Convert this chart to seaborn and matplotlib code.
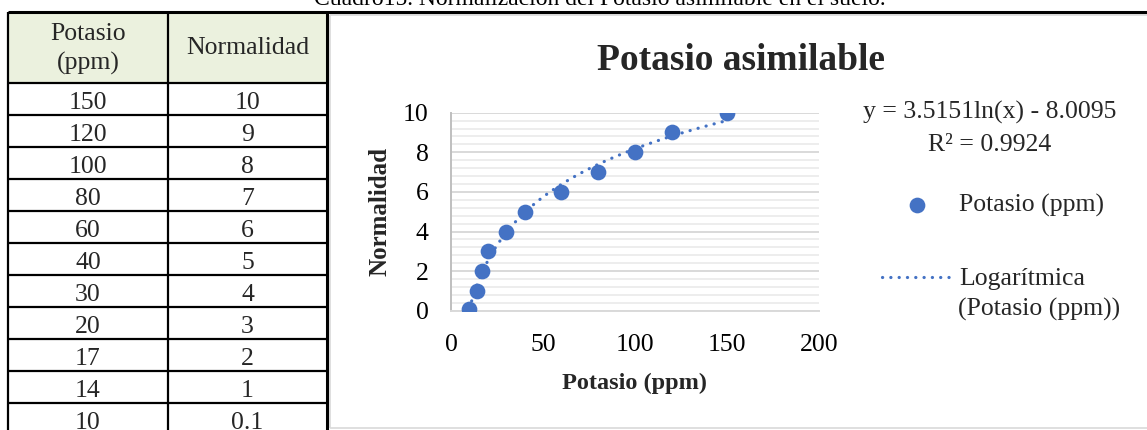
import numpy as np
import pandas as pd
import matplotlib
matplotlib.use("Agg")
import matplotlib.pyplot as plt
from matplotlib.lines import Line2D
from matplotlib.patches import Rectangle
from matplotlib.ticker import MultipleLocator
import seaborn as sns

# ---------------- data ----------------
potasio = [150, 120, 100, 80, 60, 40, 30, 20, 17, 14, 10]
normalidad = [10, 9, 8, 7, 6, 5, 4, 3, 2, 1, 0.1]
col_headers = ["Potasio\n(ppm)", "Normalidad"]
caption = "Cuadro15. Normalización del Potasio asimilable en el suelo."
title = "Potasio asimilable"
xlabel = "Potasio (ppm)"
ylabel = "Normalidad"
eq_text = "y = 3.5151ln(x) - 8.0095"
r2_text = "R² = 0.9924"
legend_labels = ["Potasio (ppm)", "Logarítmica"]
legend_label_cont = "(Potasio (ppm))"
x_ticks = [0, 50, 100, 150, 200]
y_ticks = [0, 2, 4, 6, 8, 10]

BLUE = "#4472C4"
W, H = 1147, 430

sns.set_theme(style="white")
plt.rcParams["font.family"] = ["Liberation Serif", "DejaVu Serif"]

fig = plt.figure(figsize=(W / 100, H / 100), dpi=100)
fig.patch.set_facecolor("white")


def fx(x):
    return x / W


def fy(y):
    return 1 - y / H


def hline(x0, x1, y, color="black", lw=1.5):
    fig.add_artist(Line2D([fx(x0), fx(x1)], [fy(y), fy(y)], transform=fig.transFigure,
                          color=color, lw=lw, solid_capstyle="butt"))


def vline(x, y0, y1, color="black", lw=1.5):
    fig.add_artist(Line2D([fx(x), fx(x)], [fy(y0), fy(y1)], transform=fig.transFigure,
                          color=color, lw=lw, solid_capstyle="butt"))


# ---------------- caption ----------------
fig.text(fx(600), fy(5), caption, ha="center", va="baseline", fontsize=17, color="black")

# ---------------- chart panel border ----------------
vline(329.5, 15, 428, color="#D9D9D9", lw=1.2)
hline(329.5, W, 15, color="#D9D9D9", lw=1.2)
hline(329.5, W, 428, color="#D9D9D9", lw=1.2)

# ---------------- table ----------------
tab_left, tab_mid, tab_right = 8, 168, 327
tab_top, head_bot, row_h = 12, 83, 32
fig.add_artist(Rectangle((fx(tab_left), fy(head_bot)), fx(tab_right) - fx(tab_left),
                         fy(tab_top) - fy(head_bot), transform=fig.transFigure,
                         facecolor="#EBF1DE", edgecolor="none"))
hline(tab_left, W, tab_top, lw=2.2)
hline(tab_left, tab_right, head_bot, lw=1.6)
for i in range(1, len(potasio)):
    hline(tab_left, tab_right, head_bot + i * row_h, lw=1.6)
vline(tab_left, tab_top, H, lw=1.6)
vline(tab_mid, tab_top, H, lw=1.6)
vline(tab_right, tab_top, H, lw=2.2)

c1 = (tab_left + tab_mid) / 2
c2 = (tab_mid + tab_right) / 2
fig.text(fx(c1), fy(49), col_headers[0], ha="center", va="center", fontsize=18.5,
         linespacing=1.38)
fig.text(fx(c2), fy(48), col_headers[1], ha="center", va="center", fontsize=18.5)


def fmt(v):
    return f"{v:g}"


for i, (p, n) in enumerate(zip(potasio, normalidad)):
    yb = head_bot + i * row_h + 26
    fig.text(fx(c1), fy(yb), fmt(p), ha="center", va="baseline", fontsize=18.5)
    fig.text(fx(c2), fy(yb), fmt(n), ha="center", va="baseline", fontsize=18.5)

# ---------------- chart ----------------
ax_l, ax_r, ax_t, ax_b = 451, 819, 112.7, 310.7
ax = fig.add_axes([fx(ax_l), fy(ax_b), fx(ax_r) - fx(ax_l), fy(ax_t) - fy(ax_b)])
ax.set_facecolor("white")

df = pd.DataFrame({"Potasio": potasio, "Normalidad": normalidad})

# logarithmic trendline fitted on the data
a, b = np.polyfit(np.log(df["Potasio"]), df["Normalidad"], 1)
xs = np.linspace(df["Potasio"].min(), df["Potasio"].max(), 300)
trend = pd.DataFrame({"x": xs, "y": a * np.log(xs) + b})

sns.lineplot(data=trend, x="x", y="y", ax=ax, color=BLUE, lw=2.3,
             linestyle=(0, (0.05, 2.55)), dash_capstyle="round", zorder=2,
             label=legend_labels[1])
sns.scatterplot(data=df, x="Potasio", y="Normalidad", ax=ax, s=128, color=BLUE,
                edgecolor=BLUE, linewidth=0, zorder=3, label=legend_labels[0])

ax.set_xlim(0, 200)
ax.set_ylim(0, 10)
ax.set_xticks(x_ticks)
ax.set_yticks(y_ticks)
ax.yaxis.set_minor_locator(MultipleLocator(0.4))
ax.set_axisbelow(True)
ax.grid(which="major", axis="y", color="#D9D9D9", lw=1.4)
ax.grid(which="minor", axis="y", color="#EDEDED", lw=1.4)
ax.grid(which="major", axis="x", visible=False)
for s in ["top", "right"]:
    ax.spines[s].set_visible(False)
for s in ["left", "bottom"]:
    ax.spines[s].set_color("#BFBFBF")
    ax.spines[s].set_linewidth(1.4)
ax.spines["bottom"].set_color("#D9D9D9")
ax.tick_params(axis="both", which="major", direction="out", length=6, width=1.2,
               color="#BFBFBF", labelsize=18.5, labelcolor="black")
ax.tick_params(axis="y", which="major", pad=10)
ax.tick_params(axis="x", which="major", pad=11)
ax.tick_params(axis="y", which="minor", length=0)
ax.set_xlabel(xlabel, fontsize=17.5, fontweight="bold", labelpad=12)
ax.set_ylabel(ylabel, fontsize=18, fontweight="bold", labelpad=8)

# title
fig.text(fx(741), fy(70), title, ha="center", va="baseline", fontsize=27,
         fontweight="bold")

# equation
fig.text(fx(990), fy(112), eq_text, ha="center", va="center", fontsize=18.5)
fig.text(fx(990), fy(145), r2_text, ha="center", va="center", fontsize=18.5)

# legend
h, l = ax.get_legend_handles_labels()
order = [l.index(legend_labels[0]), l.index(legend_labels[1])]
leg = ax.legend([h[i] for i in order], [l[i] for i in order],
                loc="upper left", bbox_to_anchor=(fx(882), fy(194)),
                bbox_transform=fig.transFigure, frameon=False, fontsize=18.5,
                handlelength=2.75, handletextpad=0.25, labelspacing=1.95,
                borderpad=0, borderaxespad=0, markerscale=1.0)
# continuation line of the second legend label
fig.text(fx(958), fy(309), legend_label_cont, ha="left", va="center", fontsize=18.5)

fig.savefig("out.png", dpi=100, facecolor="white")
